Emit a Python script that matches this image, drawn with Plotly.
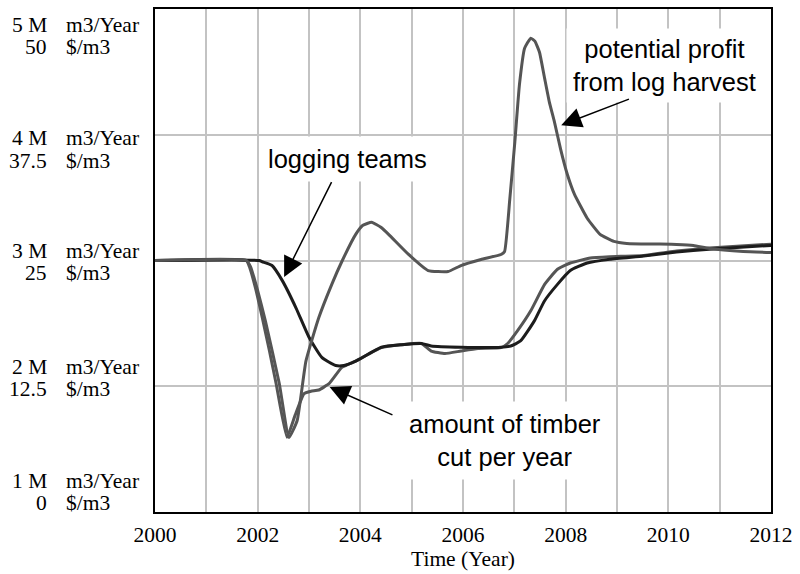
import plotly.graph_objects as go

# ---------------- data ----------------
years_lt = [2000, 2002.03, 2002.09, 2002.28, 2002.48, 2002.75, 2003.0, 2003.25, 2003.52, 2003.68,
            2003.91, 2004.41, 2004.8, 2005.19, 2005.38, 2005.96, 2006.74, 2006.93, 2007.12, 2007.39,
            2007.59, 2007.84, 2008.09, 2008.42, 2008.86, 2009.52, 2010.16, 2010.8, 2012]
logging_teams = [3.0, 3.0, 2.99, 2.96, 2.84, 2.62, 2.39, 2.23, 2.165, 2.165,
                 2.20, 2.31, 2.33, 2.34, 2.32, 2.31, 2.31, 2.32, 2.36, 2.52,
                 2.68, 2.81, 2.92, 2.98, 3.01, 3.036, 3.067, 3.09, 3.12]   # million m3/Year

years_tc = [2000, 2001.78, 2001.84, 2001.97, 2002.09, 2002.23, 2002.36, 2002.57, 2002.73, 2002.9,
            2003.04, 2003.19, 2003.39, 2003.64, 2003.91, 2004.41, 2004.8, 2005.19, 2005.38, 2005.65,
            2005.96, 2006.29, 2006.74, 2006.87, 2007.06, 2007.32, 2007.59, 2007.84, 2008.09, 2008.48,
            2008.86, 2009.52, 2010.16, 2010.8, 2012]
timber_cut = [3.0, 3.0, 2.95, 2.76, 2.545, 2.28, 2.02, 1.594, 1.77, 1.94,
              1.96, 1.97, 2.02, 2.15, 2.20, 2.307, 2.33, 2.34, 2.28, 2.26,
              2.28, 2.30, 2.307, 2.34, 2.44, 2.60, 2.81, 2.93, 2.98, 3.02,
              3.03, 3.04, 3.075, 3.10, 3.13]   # million m3/Year

years_pp = [2000, 2001.78, 2001.86, 2002.0, 2002.15, 2002.42, 2002.61, 2002.77, 2002.94, 2003.19,
            2003.45, 2003.64, 2003.91, 2004.05, 2004.22, 2004.4, 2004.55, 2004.94, 2005.32, 2005.71,
            2005.96, 2006.35, 2006.74, 2006.81, 2006.91, 2007.01, 2007.10, 2007.20, 2007.32, 2007.40,
            2007.49, 2007.59, 2007.68, 2007.78, 2007.90, 2008.03, 2008.17, 2008.42, 2008.67, 2008.94,
            2009.19, 2010.16, 2010.49, 2010.8, 2011.46, 2012]
potential_profit = [25.0, 25.0, 24.4, 22.0, 19.0, 12.8, 7.4, 9.1, 15.0, 19.3,
                    22.7, 24.9, 27.6, 28.5, 28.8, 28.3, 27.6, 25.6, 24.0, 23.9,
                    24.5, 25.1, 25.6, 25.9, 31.0, 36.8, 42.5, 46.1, 47.1, 46.8,
                    45.7, 43.1, 40.8, 38.8, 36.1, 33.6, 31.6, 29.2, 27.6, 26.9,
                    26.7, 26.6, 26.5, 26.2, 25.9, 25.8]   # $/m3

x_ticks = list(range(2000, 2013))
x_tick_text = [str(y) if y % 2 == 0 else "" for y in x_ticks]
y_tick_m = ["5 M", "4 M", "3 M", "2 M", "1 M"]
y_tick_usd = ["50", "37.5", "25", "12.5", "0"]
unit_m = "m3/Year"
unit_usd = "$/m3"

# ---------------- style ----------------
SERIF = "Liberation Serif"
SANS = "Liberation Sans"
BLACK_LINE = "#1c1c1c"
GRAY_LINE = "#555555"
GRID = "#c3c3c3"

fig = go.Figure()
fig.add_trace(go.Scatter(x=years_pp, y=potential_profit, mode="lines", yaxis="y2",
                         line=dict(color=GRAY_LINE, width=3, shape="spline", smoothing=0.4),
                         name="potential profit from log harvest"))
fig.add_trace(go.Scatter(x=years_tc, y=timber_cut, mode="lines",
                         line=dict(color=GRAY_LINE, width=3, shape="spline", smoothing=0.4),
                         name="amount of timber cut per year"))
fig.add_trace(go.Scatter(x=years_lt, y=logging_teams, mode="lines",
                         line=dict(color=BLACK_LINE, width=3, shape="spline", smoothing=0.5),
                         name="logging teams"))

annotations = []
# y-axis label block (two scales)
row1_y = [0.968, 0.743, 0.519, 0.2891, 0.0614]
row2_y = [0.925, 0.697, 0.475, 0.2455, 0.0178]
for i in range(5):
    annotations.append(dict(xref="paper", yref="paper", x=-0.1726, y=row1_y[i], text=y_tick_m[i],
                            xanchor="right", yanchor="middle", showarrow=False,
                            font=dict(family=SERIF, size=21.5, color="black")))
    annotations.append(dict(xref="paper", yref="paper", x=-0.1484, y=row1_y[i], text=unit_m,
                            xanchor="left", yanchor="middle", showarrow=False,
                            font=dict(family=SERIF, size=21.5, color="black")))
    annotations.append(dict(xref="paper", yref="paper", x=-0.1726, y=row2_y[i], text=y_tick_usd[i],
                            xanchor="right", yanchor="middle", showarrow=False,
                            font=dict(family=SERIF, size=21.5, color="black")))
    annotations.append(dict(xref="paper", yref="paper", x=-0.1484, y=row2_y[i], text=unit_usd,
                            xanchor="left", yanchor="middle", showarrow=False,
                            font=dict(family=SERIF, size=21.5, color="black")))

label_font = dict(family=SANS, size=25.5, color="black")
annotations += [
    dict(xref="x", yref="y", x=2003.75, y=3.81, text="logging teams", showarrow=False,
         bgcolor="white", borderpad=8, font=label_font),
    dict(xref="x", yref="y", x=2009.93, y=4.55, text="potential profit<br>from log harvest",
         showarrow=False, bgcolor="white", borderpad=6, font=label_font),
    dict(xref="x", yref="y", x=2006.81, y=1.57, text="amount of timber<br>cut per year",
         showarrow=False, bgcolor="white", borderpad=8, font=label_font),
]
arrow_common = dict(text="", showarrow=True, arrowhead=2, arrowwidth=1.5, arrowsize=2.7,
                    arrowcolor="black", standoff=4, axref="pixel", ayref="pixel")
annotations += [
    dict(xref="x", yref="y", x=2002.48, y=2.84, ax=50, ay=-100, **arrow_common),
    dict(xref="x", yref="y", x=2003.33, y=2.006, ax=68, ay=30, **arrow_common),
    dict(xref="x", yref="y", x=2007.84, y=4.065, ax=73, ay=-28, **arrow_common),
]

fig.update_layout(
    width=800, height=574,
    margin=dict(l=155, r=25, t=7, b=62),
    paper_bgcolor="white", plot_bgcolor="white",
    showlegend=False,
    annotations=annotations,
    xaxis=dict(range=[2000, 2012], tickvals=x_ticks, ticktext=x_tick_text,
               showgrid=True, gridcolor=GRID, gridwidth=1.5, zeroline=False,
               showline=True, linecolor="black", linewidth=2, mirror=True, ticks="",
               ticklabelstandoff=2,
               tickfont=dict(family=SERIF, size=21.5, color="black"),
               title=dict(text="Time (Year)", font=dict(family=SERIF, size=21.5, color="black"),
                          standoff=2)),
    yaxis=dict(range=[1, 5], dtick=1, showgrid=True, gridcolor=GRID, gridwidth=1.5,
               zeroline=False, showticklabels=False, ticks="",
               showline=True, linecolor="black", linewidth=2, mirror=True),
    yaxis2=dict(range=[0, 50], overlaying="y", visible=False, showgrid=False),
)

fig.write_html("out.html")
